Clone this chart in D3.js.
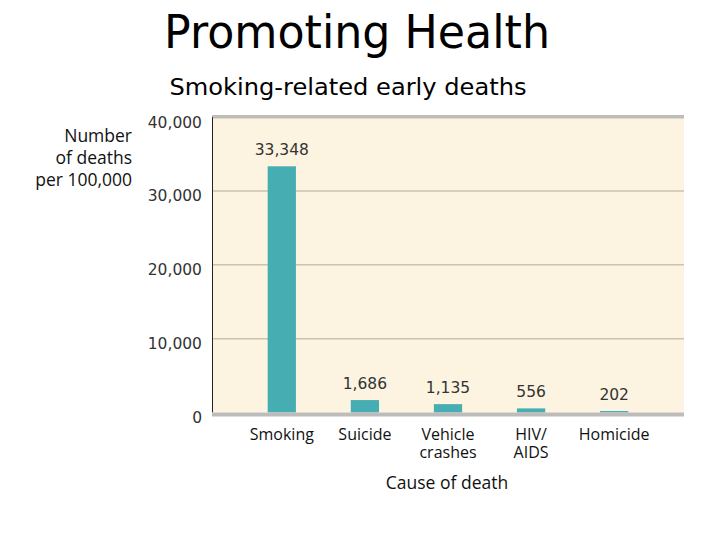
<!DOCTYPE html>
<html>
<head>
<meta charset="utf-8">
<script src="https://cdn.jsdelivr.net/npm/d3@7"></script>
<style>
  body { margin: 0; background: #fff; }
  svg { display: block; }
</style>
</head>
<body>
<svg id="chart"></svg>
<script>
// data
var causes = ["Smoking", "Suicide", "Vehicle crashes", "HIV/ AIDS", "Homicide"];
var deaths = [33348, 1686, 1135, 556, 202];
var yTicks = [0, 10000, 20000, 30000, 40000];

var svgWidth = 720, svgHeight = 540;
var plotLeft = 212, plotRight = 684, plotTop = 117.2, plotBottom = 412.5;

var svg = d3.select("#chart")
            .attr("width", svgWidth)
            .attr("height", svgHeight);

var x = d3.scaleBand()
          .domain(causes)
          .range([plotLeft, plotRight])
          .paddingInner(0.66)
          .paddingOuter(0.67);

var y = d3.scaleLinear()
          .domain([0, 40000])
          .range([plotBottom, plotTop]);

var fmt = d3.format(",");

// titles
svg.append("text")
   .attr("x", 357).attr("y", 48)
   .attr("text-anchor", "middle")
   .attr("font-family", "'Comic Sans MS', 'DejaVu Sans', sans-serif")
   .attr("font-size", 46)
   .attr("textLength", 386)
   .attr("lengthAdjust", "spacingAndGlyphs")
   .attr("fill", "#000")
   .text("Promoting Health");

svg.append("text")
   .attr("x", 348).attr("y", 95)
   .attr("text-anchor", "middle")
   .attr("font-family", "'Comic Sans MS', 'DejaVu Sans', sans-serif")
   .attr("font-size", 23)
   .attr("textLength", 357)
   .attr("lengthAdjust", "spacingAndGlyphs")
   .attr("fill", "#000")
   .text("Smoking-related early deaths");

// plot background
svg.append("rect")
   .attr("x", plotLeft).attr("y", plotTop)
   .attr("width", plotRight - plotLeft).attr("height", plotBottom - plotTop)
   .attr("fill", "#fdf3e1");

// grid lines
svg.append("g")
   .selectAll("line")
   .data(yTicks.filter(function(d){ return d > 0 && d < 40000; }))
   .enter()
   .append("line")
   .attr("x1", plotLeft).attr("x2", plotRight)
   .attr("y1", function(d){ return y(d); })
   .attr("y2", function(d){ return y(d); })
   .attr("stroke", "#cdc2ac")
   .attr("stroke-width", 1.5);

// top border
svg.append("line")
   .attr("x1", plotLeft).attr("x2", plotRight)
   .attr("y1", y(40000) - 0.5).attr("y2", y(40000) - 0.5)
   .attr("stroke", "#bfbcba")
   .attr("stroke-width", 3.5);

// bars
svg.selectAll("rect.bar")
   .data(deaths)
   .enter()
   .append("rect")
   .attr("class", "bar")
   .attr("x", function(d, i){ return x(causes[i]); })
   .attr("y", function(d){ return y(d); })
   .attr("width", x.bandwidth())
   .attr("height", function(d){ return y(0) - y(d); })
   .attr("fill", "#46aeb2");

// value labels
svg.selectAll("text.val")
   .data(deaths)
   .enter()
   .append("text")
   .attr("class", "val")
   .attr("x", function(d, i){ return x(causes[i]) + x.bandwidth() / 2; })
   .attr("y", function(d){ return y(d) - 11; })
   .attr("text-anchor", "middle")
   .attr("font-family", "'DejaVu Sans', sans-serif")
   .attr("font-size", 15.5)
   .attr("fill", "#333")
   .text(function(d){ return fmt(d); });

// left axis line
svg.append("line")
   .attr("x1", plotLeft + 0.5).attr("x2", plotLeft + 0.5)
   .attr("y1", plotTop).attr("y2", plotBottom)
   .attr("stroke", "#222")
   .attr("stroke-width", 1);

// zero line
svg.append("line")
   .attr("x1", plotLeft).attr("x2", plotRight)
   .attr("y1", y(0) + 2).attr("y2", y(0) + 2)
   .attr("stroke", "#bdbcbb")
   .attr("stroke-width", 4);

// y axis tick labels
var yAxis = d3.axisLeft(y)
              .tickValues(yTicks)
              .tickFormat(fmt)
              .tickSize(0)
              .tickPadding(10);
var yg = svg.append("g")
            .attr("transform", "translate(" + plotLeft + ",5)")
            .call(yAxis);
yg.select(".domain").remove();
yg.selectAll("text")
  .attr("font-family", "'DejaVu Sans', sans-serif")
  .attr("font-size", 15.5)
  .attr("fill", "#333");

// x axis category labels
var xAxis = d3.axisBottom(x).tickSize(0).tickPadding(0);
var xg = svg.append("g")
            .attr("transform", "translate(0," + (plotBottom + 12) + ")")
            .call(xAxis);
xg.select(".domain").remove();
xg.selectAll("text")
  .attr("font-family", "'Open Sans', sans-serif")
  .attr("font-size", 16)
  .attr("fill", "#111")
  .text(null)
  .each(function(d){
      var parts = d.split(" ");
      var t = d3.select(this);
      parts.forEach(function(p, k){
          t.append("tspan")
           .attr("x", 0)
           .attr("dy", k === 0 ? "0.95em" : "1.15em")
           .text(p);
      });
  });

// axis titles
var ylab = ["Number", "of deaths", "per 100,000"];
svg.append("text")
   .attr("font-family", "'Open Sans', sans-serif")
   .attr("font-size", 17.5)
   .attr("fill", "#111")
   .attr("text-anchor", "end")
   .selectAll("tspan")
   .data(ylab)
   .enter()
   .append("tspan")
   .attr("x", 132)
   .attr("y", function(d, i){ return 142 + i * 22; })
   .text(function(d){ return d; });

svg.append("text")
   .attr("x", 447).attr("y", 489)
   .attr("text-anchor", "middle")
   .attr("font-family", "'Open Sans', sans-serif")
   .attr("font-size", 17.5)
   .attr("fill", "#111")
   .text("Cause of death");
</script>
</body>
</html>
